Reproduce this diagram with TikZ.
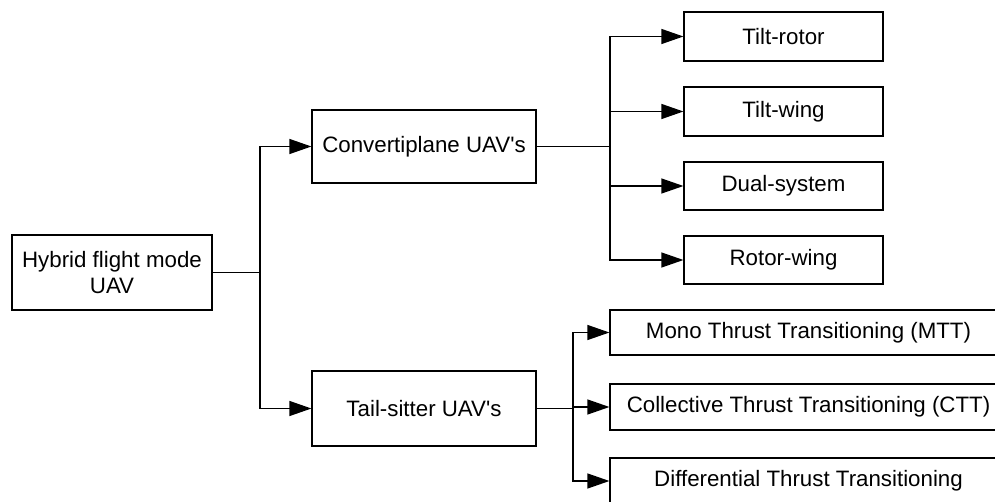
\documentclass[tikz,border=0pt]{standalone}
\usepackage{fontspec}
\setmainfont{Liberation Sans}
\usepackage{tikz}
\usetikzlibrary{arrows.meta}

\begin{document}
\begin{tikzpicture}[x=1pt,y=-1pt,line width=1.2pt,
  every node/.style={font=\fontsize{22.3}{26}\selectfont},
  box/.style={draw,align=center,inner sep=0pt},
  arr/.style={-{Triangle[length=22pt,width=15pt]}}]
\useasboundingbox (0,0) rectangle (995,502);
% root and the two families
\node[box,minimum width=200,minimum height=75] (hybrid) at (112,272.5) {Hybrid flight mode\\UAV};
\node[box,minimum width=224,minimum height=73] (conv) at (424,146.5) {Convertiplane UAV\textquotesingle s};
\node[box,minimum width=224,minimum height=75] (tail) at (424,408.5) {Tail-sitter UAV\textquotesingle s};
% convertiplane types
\node[box,minimum width=199,minimum height=49] (tiltrotor) at (783.5,36.5) {Tilt-rotor};
\node[box,minimum width=199,minimum height=49] (tiltwing) at (783.5,111.5) {Tilt-wing};
\node[box,minimum width=199,minimum height=48] (dual) at (783.5,186) {Dual-system};
\node[box,minimum width=199,minimum height=48] (rotorwing) at (783.5,260) {Rotor-wing};
% tail-sitter types
\node[box,minimum width=397,minimum height=45] (mtt) at (808.5,332.5) {Mono Thrust Transitioning (MTT)};
\node[box,minimum width=397,minimum height=46] (ctt) at (808.5,407) {Collective Thrust Transitioning (CTT)};
\node[box,minimum width=397,minimum height=46] (dtt) at (808.5,481) {Differential Thrust Transitioning};
% branch points
\coordinate (j1) at (260,272.5);
\coordinate (j2) at (610,146.5);
\coordinate (j3) at (573,408.5);
\draw (hybrid.east) -- (j1);
\draw[arr] (j1) |- (conv.west);
\draw[arr] (j1) |- (tail.west);
\draw (conv.east) -- (j2);
\foreach \t in {tiltrotor,tiltwing,dual,rotorwing}
  \draw[arr] (j2) |- (\t.west);
\draw (tail.east) -- (j3);
\foreach \t in {mtt,ctt,dtt}
  \draw[arr] (j3) |- (\t.west);
\end{tikzpicture}
\end{document}
